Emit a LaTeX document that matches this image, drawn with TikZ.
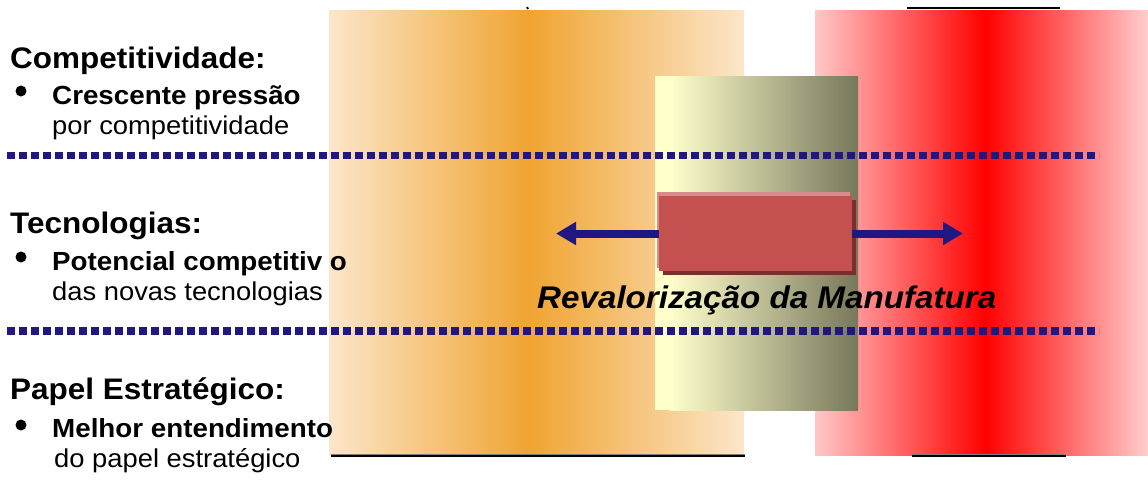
\documentclass[tikz,border=0pt]{standalone}
\usepackage{fontspec}
\setmainfont{Liberation Sans}
\usetikzlibrary{arrows.meta}
\definecolor{lightor}{HTML}{FCE6CA}
\definecolor{orangec}{HTML}{F0A431}
\definecolor{pinkc}{HTML}{FFC8C8}
\definecolor{redc}{HTML}{FF0000}
\definecolor{lyellow}{HTML}{FFFFCC}
\definecolor{olive}{HTML}{77775B}
\definecolor{boxred}{HTML}{C45050}
\definecolor{boxhi}{HTML}{D98A8A}
\definecolor{boxsh}{HTML}{7A2E2E}
\definecolor{navy}{HTML}{211782}
\newcommand{\hx}[1]{\scalebox{1.06}[1]{#1}}
\tikzset{
  head/.style={anchor=base west, inner sep=0pt, font=\fontsize{29.7}{34}\selectfont\bfseries},
  boldline/.style={anchor=base west, inner sep=0pt, font=\fontsize{26.2}{30}\selectfont\bfseries},
  plainline/.style={anchor=base west, inner sep=0pt, font=\fontsize{25.8}{30}\selectfont},
  bulletdot/.style={circle, fill=black, inner sep=0pt, minimum size=11pt},
  dotline/.style={navy, line width=7.5pt, dash pattern=on 8pt off 4pt},
  bararrow/.style={navy, line width=8pt, -{Triangle[length=20pt 0, width=22pt 0]}},
  edgeline/.style={black, line width=2pt},
}
\begin{document}
\begin{tikzpicture}[x=1pt,y=-1pt]
\useasboundingbox (0,0) rectangle (1148,480);
% orange band
\shade[left color=lightor, right color=orangec] (329,10) rectangle (528.5,455);
\shade[left color=orangec, right color=lightor] (528,10) rectangle (744,455);
% red band
\shade[left color=pinkc, right color=redc] (815,10) rectangle (985.5,455);
\shade[left color=redc, right color=pinkc!90!white] (985,10) rectangle (1148,455);
% olive band
\fill[lyellow] (655,76) rectangle (858,410);
\shade[left color=lyellow, right color=olive] (670,76) rectangle (858,410);
% edge marks
\coordinate (ot) at (527,7);
\coordinate (ot2) at (528,9);
\draw[edgeline] (ot) -- (ot2);
\coordinate (obl) at (331,456);
\coordinate (obr) at (745,456);
\draw[gray, line width=1.5pt] ([yshift=1.5pt]obl) -- ([yshift=1.5pt]obr);
\draw[edgeline] (obl) -- (obr);
\coordinate (rtl) at (907,8);
\coordinate (rtr) at (1060,8);
\draw[edgeline] (rtl) -- (rtr);
\coordinate (rbl) at (912,456);
\coordinate (rbr) at (1066,456);
\draw[gray, line width=1.5pt] ([yshift=1.5pt]rbl) -- ([yshift=1.5pt]rbr);
\draw[edgeline] (rbl) -- (rbr);
% dotted separators
\coordinate (d1a) at (7,155.5);
\coordinate (d1b) at (1099,155.5);
\coordinate (d2a) at (7,331);
\coordinate (d2b) at (1099,331);
\draw[dotline] (d1a) -- (d1b);
\draw[dotline] (d2a) -- (d2b);
% central box
\fill[boxsh] (663,200) rectangle (856,275);
\fill[boxhi] (657,192) rectangle (850,268);
\node[fill=boxred, inner sep=0pt, minimum width=193pt, minimum height=75pt] (box) at (755.5,233.5) {};
\coordinate (ltip) at (556,233.5);
\coordinate (rtip) at (963,233.5);
\draw[bararrow] (box.west) -- (ltip);
\draw[bararrow] (box.east) -- (rtip);
\node[anchor=base west, inner sep=0pt, font=\fontsize{31.3}{36}\selectfont\bfseries\itshape] (reval) at (537,308) {\hx{Revalorização da Manufatura}};
% left texts
\node[head] (h1) at (10,68) {\hx{Competitividade:}};
\node[bulletdot] (b1) at (21,91) {};
\node[boldline] (t1a) at (52,104) {\hx{Crescente pressão}};
\node[plainline] (t1b) at (52,134) {\hx{por competitividade}};
\node[head] (h2) at (10,233) {\hx{Tecnologias:}};
\node[bulletdot] (b2) at (21,257) {};
\node[boldline] (t2a) at (52,270) {\hx{Potencial competitiv o}};
\node[plainline] (t2b) at (52,300) {\hx{das novas tecnologias}};
\node[head] (h3) at (10,399) {\hx{Papel Estratégico:}};
\node[bulletdot] (b3) at (21,425) {};
\node[boldline] (t3a) at (52,437) {\hx{Melhor entendimento}};
\node[plainline] (t3b) at (54,467) {\hx{do papel estratégico}};
\end{tikzpicture}
\end{document}
